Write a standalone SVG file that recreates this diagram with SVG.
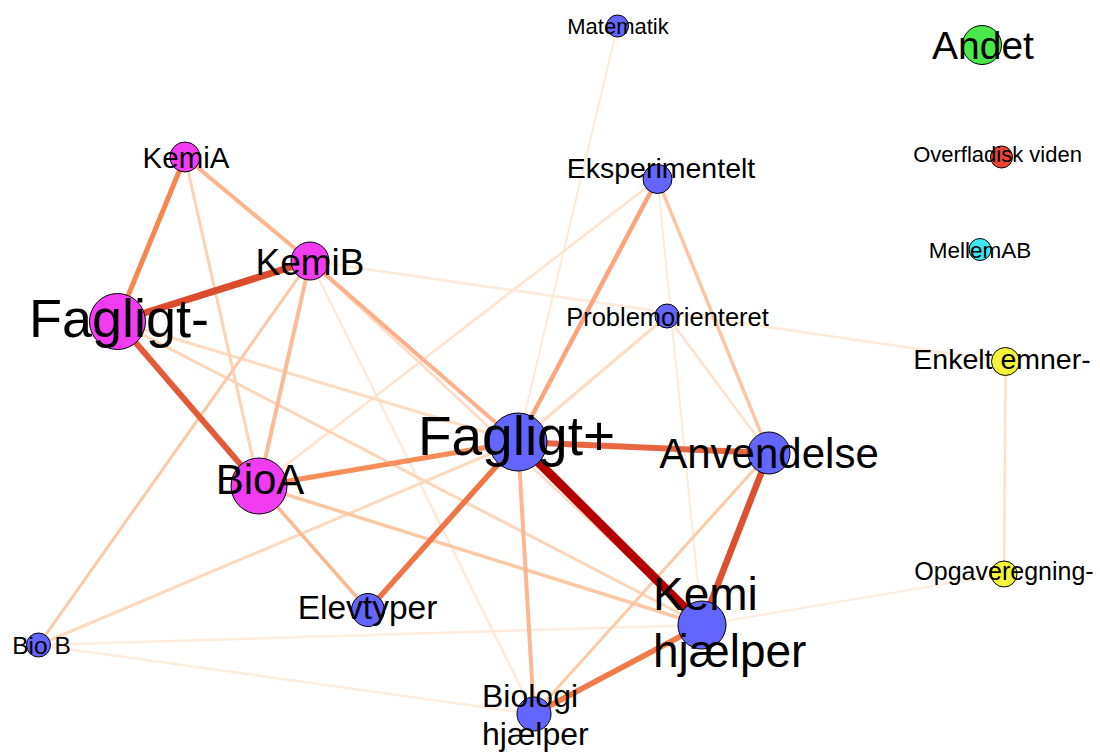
<svg xmlns="http://www.w3.org/2000/svg" width="1100" height="753" viewBox="0 0 1100 753">
  <style>
    .edge { fill: none; stroke-linecap: butt; }
    .node circle { stroke: #000; stroke-width: 1; }
    .node text { font-family: "Liberation Sans", Arial, sans-serif; fill: #000; }
    .mid { text-anchor: middle; }
    .blue { fill: #6464ff; }
    .mag { fill: #f23cf2; }
    .green { fill: #4ae84a; }
    .red { fill: #ee4433; }
    .cyan { fill: #3fe6ee; }
    .yellow { fill: #f4f43c; }
  </style>
  <rect width="1100" height="753" fill="#fff"/>

  <!-- weighted co-occurrence connectors -->
  <g id="connectors" class="edge">
    <line x1="38.5" y1="645" x2="534" y2="714" stroke="#feecdc" stroke-width="2.5"/>
    <line x1="38.5" y1="645" x2="702" y2="625" stroke="#feecdc" stroke-width="2.5"/>
    <line x1="1004" y1="574" x2="702" y2="625" stroke="#feecdc" stroke-width="2"/>
    <line x1="1005.5" y1="361.5" x2="1004" y2="574" stroke="#fde0c8" stroke-width="2.5"/>
    <line x1="310" y1="261" x2="1005.5" y2="361.5" stroke="#feead8" stroke-width="2.5"/>
    <line x1="310" y1="261" x2="534" y2="714" stroke="#feead8" stroke-width="2.5"/>
    <line x1="617.5" y1="26" x2="518" y2="442" stroke="#feead8" stroke-width="2"/>
    <line x1="657.5" y1="179" x2="702" y2="625" stroke="#feead8" stroke-width="2"/>
    <line x1="657.5" y1="179" x2="259" y2="486" stroke="#fee4cf" stroke-width="2.5"/>
    <line x1="310" y1="261" x2="702" y2="625" stroke="#fedcc4" stroke-width="2.5"/>
    <line x1="667" y1="316" x2="769" y2="453" stroke="#fee2cc" stroke-width="2.5"/>
    <line x1="667" y1="316" x2="518" y2="442" stroke="#fddcc4" stroke-width="3"/>
    <line x1="117.5" y1="321.5" x2="518" y2="442" stroke="#fddcc4" stroke-width="3"/>
    <line x1="38.5" y1="645" x2="518" y2="442" stroke="#fdd9bf" stroke-width="3"/>
    <line x1="185" y1="157" x2="259" y2="486" stroke="#fdd3b5" stroke-width="3"/>
    <line x1="117.5" y1="321.5" x2="702" y2="625" stroke="#fdd5b9" stroke-width="3"/>
    <line x1="769" y1="453" x2="534" y2="714" stroke="#fdcaa8" stroke-width="3"/>
    <line x1="310" y1="261" x2="38.5" y2="645" stroke="#fcc8a8" stroke-width="3"/>
    <line x1="259" y1="486" x2="702" y2="625" stroke="#fcc7a5" stroke-width="3.5"/>
    <line x1="769" y1="453" x2="657.5" y2="179" stroke="#fcc6a4" stroke-width="3.5"/>
    <line x1="518" y1="442" x2="534" y2="714" stroke="#fcb690" stroke-width="4"/>
    <line x1="259" y1="486" x2="368" y2="610" stroke="#fcb890" stroke-width="3.5"/>
    <line x1="310" y1="261" x2="259" y2="486" stroke="#fcbb94" stroke-width="4"/>
    <line x1="310" y1="261" x2="518" y2="442" stroke="#fbb08a" stroke-width="4"/>
    <line x1="185" y1="157" x2="310" y2="261" stroke="#fbb48c" stroke-width="4"/>
    <line x1="657.5" y1="179" x2="518" y2="442" stroke="#fca57c" stroke-width="4.5"/>
    <line x1="259" y1="486" x2="518" y2="442" stroke="#f78d58" stroke-width="5"/>
    <line x1="117.5" y1="321.5" x2="185" y2="157" stroke="#f5874f" stroke-width="5"/>
    <line x1="702" y1="625" x2="534" y2="714" stroke="#f07a4a" stroke-width="5.5"/>
    <line x1="518" y1="442" x2="368" y2="610" stroke="#ef7547" stroke-width="5.5"/>
    <line x1="518" y1="442" x2="769" y2="453" stroke="#e8663f" stroke-width="6"/>
    <line x1="117.5" y1="321.5" x2="259" y2="486" stroke="#e35a38" stroke-width="6"/>
    <line x1="769" y1="453" x2="702" y2="625" stroke="#dc4f2f" stroke-width="6.5"/>
    <line x1="117.5" y1="321.5" x2="310" y2="261" stroke="#dc4c2c" stroke-width="7"/>
    <line x1="518" y1="442" x2="702" y2="625" stroke="#b30000" stroke-width="9"/>
  </g>

  <g id="node-matematik" class="node">
    <circle class="blue" cx="617.5" cy="26" r="11"/>
    <text class="mid" x="618" y="34" font-size="22">Matematik</text>
  </g>
  <g id="node-andet" class="node">
    <circle class="green" cx="982" cy="45" r="19.5"/>
    <text class="mid" x="983" y="59" font-size="39">Andet</text>
  </g>
  <g id="node-kemia" class="node">
    <circle class="mag" cx="185" cy="157" r="15"/>
    <text class="mid" x="186" y="168" font-size="29.5">KemiA</text>
  </g>
  <g id="node-overfladisk" class="node">
    <circle class="red" cx="1001.5" cy="157" r="11"/>
    <text class="mid" x="997.5" y="162" font-size="22">Overfladisk viden</text>
  </g>
  <g id="node-eksperimentelt" class="node">
    <circle class="blue" cx="657.5" cy="179" r="14.5"/>
    <text class="mid" x="661" y="178" font-size="28.5">Eksperimentelt</text>
  </g>
  <g id="node-mellemab" class="node">
    <circle class="cyan" cx="980" cy="249.5" r="11"/>
    <text class="mid" x="980" y="258" font-size="22.5">MellemAB</text>
  </g>
  <g id="node-kemib" class="node">
    <circle class="mag" cx="310" cy="261" r="19"/>
    <text class="mid" x="310" y="275" font-size="37">KemiB</text>
  </g>
  <g id="node-problemorienteret" class="node">
    <circle class="blue" cx="667" cy="316" r="12"/>
    <text class="mid" x="667.5" y="326" font-size="25.5">Problemorienteret</text>
  </g>
  <g id="node-fagligt-minus" class="node">
    <circle class="mag" cx="117.5" cy="321.5" r="28"/>
    <text class="mid" x="119" y="337" font-size="54">Fagligt-</text>
  </g>
  <g id="node-enkelt-emner" class="node">
    <circle class="yellow" cx="1005.5" cy="361.5" r="14"/>
    <text class="mid" x="1002" y="369" font-size="28.5">Enkelt emner-</text>
  </g>
  <g id="node-fagligt-plus" class="node">
    <circle class="blue" cx="518" cy="442" r="29"/>
    <text class="mid" x="516.5" y="455" font-size="55">Fagligt+</text>
  </g>
  <g id="node-anvendelse" class="node">
    <circle class="blue" cx="769" cy="453" r="21"/>
    <text class="mid" x="769" y="468" font-size="42">Anvendelse</text>
  </g>
  <g id="node-bioa" class="node">
    <circle class="mag" cx="259" cy="486" r="28"/>
    <text class="mid" x="260" y="494" font-size="42">BioA</text>
  </g>
  <g id="node-elevtyper" class="node">
    <circle class="blue" cx="368" cy="610" r="16.5"/>
    <text class="mid" x="367.5" y="619" font-size="33.5">Elevtyper</text>
  </g>
  <g id="node-opgaveregning" class="node">
    <circle class="yellow" cx="1004" cy="574" r="13"/>
    <text class="mid" x="1004" y="580" font-size="25">Opgaveregning-</text>
  </g>
  <g id="node-kemi-hjaelper" class="node">
    <circle class="blue" cx="702" cy="625" r="24"/>
    <text x="653" y="610" font-size="46">Kemi<tspan x="653" y="667">hjælper</tspan></text>
  </g>
  <g id="node-bio-b" class="node">
    <circle class="blue" cx="38.5" cy="645" r="12"/>
    <text class="mid" x="41.5" y="654" font-size="24.5">Bio B</text>
  </g>
  <g id="node-biologi-hjaelper" class="node">
    <circle class="blue" cx="534" cy="714" r="17"/>
    <text x="482" y="707" font-size="32">Biologi<tspan x="482" y="745">hjælper</tspan></text>
  </g>
</svg>
